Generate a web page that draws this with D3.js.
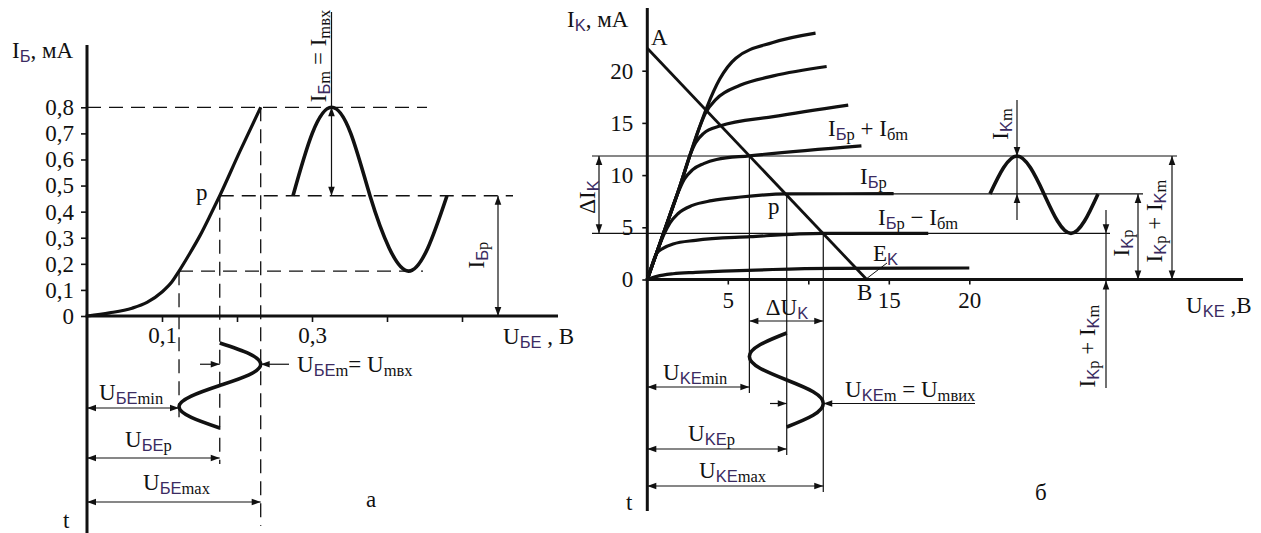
<!DOCTYPE html>
<html>
<head>
<meta charset="utf-8">
<script src="https://cdn.jsdelivr.net/npm/d3@7"></script>
<style>
  html, body { margin: 0; padding: 0; background: #fff; }
  svg text { font-family: "Liberation Serif", "Times New Roman", serif; }
</style>
</head>
<body>
<svg id="chart" width="1261" height="533"></svg>
<script>
// ---------- (a) input characteristic I_Б = f(U_БЕ) ----------
const inputU = [0, 0.03, 0.06, 0.08, 0.1, 0.113, 0.1227, 0.135, 0.151, 0.165, 0.177, 0.204, 0.2316];
const inputI = [0, 0.012, 0.03, 0.052, 0.092, 0.13, 0.172, 0.23, 0.31, 0.39, 0.461, 0.632, 0.8];
const baseTicksI = [0, 0.1, 0.2, 0.3, 0.4, 0.5, 0.6, 0.7, 0.8];
const baseTickLabelsI = ["0", "0,1", "0,2", "0,3", "0,4", "0,5", "0,6", "0,7", "0,8"];
const baseTicksU = [0.1, 0.2, 0.3, 0.4, 0.5];
const baseTickLabelsU = ["0,1", "", "0,3", "", ""];

// operating point and swing on the input side
const ubeMin = 0.1227, ubeP = 0.177, ubeMax = 0.2316;
const ibMin = 0.172, ibP = 0.461, ibMax = 0.8;

// one period of the input signals, sampled every 1/8 period
const wavePhase = [0, 1, 2, 3, 4, 5, 6, 7, 8];
const ibWave = [0.461, 0.70, 0.80, 0.70, 0.461, 0.26, 0.172, 0.26, 0.461];
const ubeWave = [0.177, 0.216, 0.2316, 0.216, 0.177, 0.139, 0.1227, 0.139, 0.177];

// ---------- (б) output characteristics I_К = f(U_КЕ) ----------
const collTicksI = [0, 5, 10, 15, 20];
const collTicksU = [5, 10, 15, 20];
const collTickLabelsU = ["5", "", "15", "20"];

const outU1 = [0, 1.0, 2.0, 2.65, 3.2, 3.7, 4.5, 5.5, 7.8, 10.45];
const outI1 = [0, 4.4, 8.8, 11.9, 14.4, 16.5, 19.2, 21.2, 22.7, 23.6];
const outU2 = [0, 1.0, 2.0, 2.65, 3.2, 3.6, 4.3, 5.76, 7.83, 11.14];
const outI2 = [0, 4.4, 8.8, 11.9, 14.4, 15.9, 17.3, 18.6, 19.5, 20.4];
const outU3 = [0, 1.0, 2.0, 2.65, 3.0, 3.5, 4.5, 7.83, 12.48];
const outI3 = [0, 4.4, 8.8, 11.9, 13.1, 14.0, 14.7, 15.6, 16.7];
const outU4 = [0, 1.0, 1.8, 2.3, 2.8, 3.5, 4.3, 6.34, 13.3];
const outI4 = [0, 4.4, 7.9, 9.6, 10.5, 11.1, 11.5, 11.85, 12.8];
const outU5 = [0, 0.5, 1.0, 1.4, 1.9, 2.8, 4.0, 5.8, 8.66, 15.3];
const outI5 = [0, 2.2, 4.2, 5.4, 6.3, 7.1, 7.55, 7.9, 8.2, 8.22];
const outU6 = [0, 0.25, 0.58, 1.0, 1.6, 3.0, 6.4, 10.93, 17.45];
const outI6 = [0, 1.2, 2.5, 3.0, 3.4, 3.75, 4.1, 4.42, 4.42];
const outU7 = [0, 0.6, 1.6, 3.0, 4.7, 7.8, 11.5, 20.0];
const outI7 = [0, 0.3, 0.55, 0.68, 0.8, 0.96, 1.06, 1.1];

// load line A–B
const loadIA = 22.15, loadUB = 13.63;

// operating point and swing on the output side
const ukeMin = 6.34, ukeP = 8.66, ukeMax = 10.93;
const ikMin = 4.42, ikP = 8.2, ikMax = 11.83;

const ikWave = [8.2, 10.7, 11.83, 10.7, 8.2, 5.6, 4.42, 5.6, 8.2];
const ukeWave = [8.66, 7.0, 6.34, 7.0, 8.66, 10.3, 10.93, 10.3, 8.66];

// ---------- drawing ----------
const svg = d3.select("#chart");
const INK = "#111";
const FS = 23;

const xL = d3.scaleLinear().domain([0, 0.5]).range([87, 462]);
const yL = d3.scaleLinear().domain([0, 0.8]).range([316, 107.3]);
const xR = d3.scaleLinear().domain([0, 20]).range([647.3, 969.3]);
const yR = d3.scaleLinear().domain([0, 20]).range([279.5, 70.7]);

// time axes of the signal sketches
const tIb = d3.scaleLinear().domain([0, 8]).range([293, 447]);
const tUbe = d3.scaleLinear().domain([0, 8]).range([343, 428]);
const tIk = d3.scaleLinear().domain([0, 8]).range([990, 1098]);
const tUke = d3.scaleLinear().domain([0, 8]).range([333, 427]);

const zip = (a, b) => a.map((v, k) => [v, b[k]]);

function seg(g, x1, y1, x2, y2, w, dash) {
  const l = g.append("line").attr("x1", x1).attr("y1", y1).attr("x2", x2).attr("y2", y2)
    .attr("stroke", INK).attr("stroke-width", w);
  if (dash) l.attr("stroke-dasharray", dash);
  return l;
}

function head(g, x, y, dir) {
  const L = 9, W = 3.3;
  const pts = {
    up: [[x, y], [x - W, y + L], [x + W, y + L]],
    down: [[x, y], [x - W, y - L], [x + W, y - L]],
    left: [[x, y], [x + L, y - W], [x + L, y + W]],
    right: [[x, y], [x - L, y - W], [x - L, y + W]]
  }[dir];
  g.append("path").attr("d", d3.line()(pts) + "Z").attr("fill", INK);
}

function dimH(g, y, x1, x2) {
  seg(g, x1, y, x2, y, 1.2);
  head(g, x1, y, "left");
  head(g, x2, y, "right");
}
function dimV(g, x, y1, y2) {
  seg(g, x, y1, x, y2, 1.2);
  head(g, x, y1, "up");
  head(g, x, y2, "down");
}

// label: parts alternate normal text / subscript;
// capital subscript letters are set in sans, lower-case ones in serif
const SUB_SHIFT = 3.5;
function rich(g, x, y, parts, opt = {}) {
  const t = g.append("text").attr("font-size", opt.size || FS).attr("fill", INK);
  if (opt.anchor) t.attr("text-anchor", opt.anchor);
  if (opt.rotate) t.attr("transform", `translate(${x},${y}) rotate(-90)`);
  else t.attr("x", x).attr("y", y);
  let inSub = false;
  parts.forEach((p, k) => {
    if (!p) return;
    if (k % 2 === 0) {
      const s = t.append("tspan").text(p);
      if (inSub) { s.attr("dy", -SUB_SHIFT); inSub = false; }
    } else {
      const runs = p.match(/[A-ZА-ЯЁ]+|[^A-ZА-ЯЁ]+/g);
      runs.forEach(r => {
        const caps = /[A-ZА-ЯЁ]/.test(r);
        const s = t.append("tspan").text(r)
          .attr("font-size", 16.5)
          .attr("fill", caps ? "#3b2b62" : INK);
        if (caps) s.attr("font-family", "'Liberation Sans', Arial, sans-serif");
        if (!inSub) { s.attr("dy", SUB_SHIFT); inSub = true; }
      });
    }
  });
  return t;
}

function styleAxis(g) {
  g.select(".domain").remove();
  g.selectAll(".tick line").attr("stroke", INK).attr("stroke-width", 1.6);
  g.selectAll(".tick text").attr("font-size", FS).attr("fill", INK)
    .attr("font-family", "'Liberation Serif', 'Times New Roman', serif");
}

// ======== panel а ========
const gA = svg.append("g");
const DASH = "14,8";

// dashed projection lines
seg(gA, xL(0), yL(ibMax), 427, yL(ibMax), 1.3, DASH);
seg(gA, xL(ubeP), yL(ibP), 513, yL(ibP), 1.3, DASH);
seg(gA, xL(ubeMin), yL(ibMin), 423, yL(ibMin), 1.3, DASH);
seg(gA, xL(ubeMin), yL(ibMin), xL(ubeMin), 420, 1.3, DASH);
seg(gA, xL(ubeP), yL(ibP), xL(ubeP), 464, 1.3, DASH);
seg(gA, xL(ubeMax), yL(ibMax), xL(ubeMax), 526, 1.3, DASH);

// axes
gA.append("g").attr("transform", `translate(${xL(0)},0)`)
  .call(d3.axisLeft(yL).tickValues(baseTicksI).tickSize(6).tickPadding(7)
    .tickFormat((d, k) => baseTickLabelsI[k]))
  .call(styleAxis);
gA.append("g").attr("transform", `translate(0,${yL(0)})`)
  .call(d3.axisBottom(xL).tickValues(baseTicksU).tickSize(6).tickPadding(5)
    .tickFormat((d, k) => baseTickLabelsU[k]))
  .call(styleAxis);
seg(gA, xL(0), 45, xL(0), 533, 3);
seg(gA, xL(0) - 1.5, yL(0), 558, yL(0), 3);

// input characteristic
gA.append("path").datum(zip(inputU, inputI))
  .attr("d", d3.line().x(d => xL(d[0])).y(d => yL(d[1])).curve(d3.curveMonotoneX))
  .attr("fill", "none").attr("stroke", INK).attr("stroke-width", 3.2);

// base current signal
gA.append("path").datum(zip(wavePhase, ibWave))
  .attr("d", d3.line().x(d => tIb(d[0])).y(d => yL(d[1])).curve(d3.curveNatural))
  .attr("fill", "none").attr("stroke", INK).attr("stroke-width", 3.6);

// base-emitter voltage signal (time runs downwards)
gA.append("path").datum(zip(wavePhase, ubeWave))
  .attr("d", d3.line().x(d => xL(d[1])).y(d => tUbe(d[0])).curve(d3.curveNatural))
  .attr("fill", "none").attr("stroke", INK).attr("stroke-width", 3.6);

// amplitude of the base current
const xIbm = tIb(2);
seg(gA, xIbm, 12, xIbm, yL(ibP), 1.2);
head(gA, xIbm, yL(ibMax), "up");
head(gA, xIbm, yL(ibP), "down");
rich(gA, 326, 56, ["I", "Бm", " = I", "mвх"], { rotate: true, anchor: "middle" });

// quiescent base current
dimV(gA, 498, yL(ibP), yL(0));
rich(gA, 484, 255, ["I", "Бр"], { rotate: true, anchor: "middle" });

// input voltage amplitude
seg(gA, 200, tUbe(2), xL(ubeP), tUbe(2), 1.2);
head(gA, xL(ubeP), tUbe(2), "right");
seg(gA, 289, tUbe(2), xL(ubeMax), tUbe(2), 1.2);
head(gA, xL(ubeMax), tUbe(2), "left");
rich(gA, 297, 372, ["U", "БЕm", "= U", "mвх"]);

dimH(gA, 408, xL(0), xL(ubeMin));
dimH(gA, 458, xL(0), xL(ubeP));
dimH(gA, 502, xL(0), xL(ubeMax));
rich(gA, 99, 400, ["U", "БЕmin"]);
rich(gA, 125, 447, ["U", "БЕр"]);
rich(gA, 143, 490, ["U", "БЕmax"]);

rich(gA, 12, 58, ["I", "Б", ", мА"]);
rich(gA, 503, 344, ["U", "БЕ", " , В"]);
rich(gA, 196, 200, ["р"]);
rich(gA, 366, 507, ["а"]);
rich(gA, 63, 528, ["t"]);

// ======== panel б ========
const gB = svg.append("g");

// projection lines
seg(gB, 592, yR(ikMax), 1177, yR(ikMax), 1.2);
seg(gB, xR(ukeP), yR(ikP), 1143, yR(ikP), 1.2);
seg(gB, 592, yR(ikMin), 1110, yR(ikMin), 1.2);
seg(gB, xR(ukeMin), yR(ikMax), xR(ukeMin), 393, 1.2);
seg(gB, xR(ukeP), yR(ikP), xR(ukeP), 455, 1.2);
seg(gB, xR(ukeMax), yR(ikMin), xR(ukeMax), 492, 1.2);

// axes
gB.append("g").attr("transform", `translate(${xR(0)},0)`)
  .call(d3.axisLeft(yR).tickValues(collTicksI).tickSize(5).tickPadding(9))
  .call(styleAxis);
gB.append("g").attr("transform", `translate(0,${yR(0)})`)
  .call(d3.axisBottom(xR).tickValues(collTicksU).tickSize(5).tickPadding(7)
    .tickFormat((d, k) => collTickLabelsU[k]))
  .call(styleAxis);
seg(gB, xR(0), 8, xR(0), 511, 3);
seg(gB, xR(0) - 1.5, yR(0), 1243, yR(0), 3);

// family of output curves
const outLine = d3.line().x(d => xR(d[0])).y(d => yR(d[1])).curve(d3.curveMonotoneX);
[[outU1, outI1], [outU2, outI2], [outU3, outI3], [outU4, outI4],
 [outU5, outI5], [outU6, outI6], [outU7, outI7]].forEach(([u, i]) => {
  gB.append("path").datum(zip(u, i)).attr("d", outLine)
    .attr("fill", "none").attr("stroke", INK).attr("stroke-width", 3.2)
    .attr("stroke-linejoin", "round");
});

// load line
seg(gB, xR(0), yR(loadIA), xR(loadUB), yR(0), 2.8);
seg(gB, xR(loadUB), yR(0) - 1, 887, 263, 1);

// collector current signal
gB.append("path").datum(zip(wavePhase, ikWave))
  .attr("d", d3.line().x(d => tIk(d[0])).y(d => yR(d[1])).curve(d3.curveNatural))
  .attr("fill", "none").attr("stroke", INK).attr("stroke-width", 3.6);

// collector-emitter voltage signal
gB.append("path").datum(zip(wavePhase, ukeWave))
  .attr("d", d3.line().x(d => xR(d[1])).y(d => tUke(d[0])).curve(d3.curveNatural))
  .attr("fill", "none").attr("stroke", INK).attr("stroke-width", 3.6);

// collector current amplitude
const xIkm = tIk(2);
seg(gB, xIkm, 100, xIkm, 220, 1.2);
head(gB, xIkm, yR(ikMax), "down");
head(gB, xIkm, yR(ikP), "up");
rich(gB, 1008, 124, ["I", "Km"], { rotate: true, anchor: "middle" });

dimV(gB, 599, yR(ikMax), yR(ikMin));
rich(gB, 595, 197, ["ΔI", "K"], { rotate: true, anchor: "middle" });

dimV(gB, 1138, yR(ikP), yR(0));
rich(gB, 1129, 243, ["I", "Kр"], { rotate: true, anchor: "middle" });
dimV(gB, 1172, yR(ikMax), yR(0));
rich(gB, 1162, 221, ["I", "Kр", " + I", "Km"], { rotate: true, anchor: "middle" });

seg(gB, 1106, 210, 1106, 388, 1.2);
head(gB, 1106, yR(ikMin), "down");
head(gB, 1106, yR(0) + 1, "up");
rich(gB, 1095, 346, ["I", "Kр", " + I", "Km"], { rotate: true, anchor: "middle" });

// voltage dimensions
dimH(gB, 321, xR(ukeMin), xR(ukeMax));
rich(gB, 787, 315, ["ΔU", "K"], { anchor: "middle" });
dimH(gB, 387, xR(0), xR(ukeMin));
dimH(gB, 449, xR(0), xR(ukeP));
dimH(gB, 486, xR(0), xR(ukeMax));
rich(gB, 663, 380, ["U", "KEmin"]);
rich(gB, 688, 441, ["U", "KEр"]);
rich(gB, 699, 478, ["U", "KEmax"]);

seg(gB, 770, tUke(6), xR(ukeP), tUke(6), 1.2);
head(gB, xR(ukeP), tUke(6), "right");
seg(gB, 975, tUke(6), xR(ukeMax), tUke(6), 1.2);
head(gB, xR(ukeMax), tUke(6), "left");
rich(gB, 845, 397, ["U", "KEm", " = U", "mвих"]);

// captions
rich(gB, 567, 27, ["I", "K", ", мА"]);
rich(gB, 651, 45, ["A"]);
rich(gB, 857, 300, ["B"]);
rich(gB, 1186, 313, ["U", "KE", " ,В"]);
rich(gB, 828, 136, ["I", "Бр", " + I", "бm"]);
rich(gB, 860, 184, ["I", "Бр"]);
rich(gB, 878, 225, ["I", "Бр", " − I", "бm"]);
rich(gB, 768, 214, ["р"]);
rich(gB, 873, 261, ["E", "K"]);
rich(gB, 626, 510, ["t"]);
rich(gB, 1035, 500, ["б"]);
</script>
</body>
</html>
